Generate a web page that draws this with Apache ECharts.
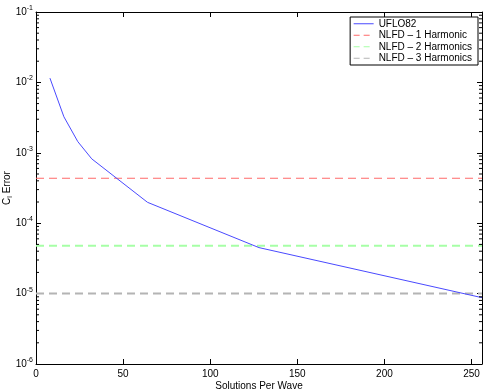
<!DOCTYPE html>
<html><head><meta charset="utf-8">
<script src="https://cdn.jsdelivr.net/npm/echarts@6/dist/echarts.min.js"></script>
<style>html,body{margin:0;padding:0;background:#fff}#c{width:486px;height:391px}</style>
</head><body><div id="c"></div>
<script>
// ---- data ----
const solutionsPerWave = [8, 16, 24, 32, 64, 128, 256];
const ufloError = [1.15e-2, 3.25e-3, 1.44e-3, 8.2e-4, 1.98e-4, 4.5e-5, 8.75e-6];
const harmonicLevels = [4.35e-4, 4.8e-5, 1.0e-5];
const seriesNames = ['UFLO82', 'NLFD – 1 Harmonic', 'NLFD – 2 Harmonics', 'NLFD – 3 Harmonics'];
const xRange = [0, 256];
const xTickStep = 50;
const yRange = [1e-6, 1e-1];
const yDecadeExponents = [-6, -5, -4, -3, -2];
const minorMultipliers = [2, 3, 4, 5, 6, 7, 8, 9];

const FONT = "'Liberation Sans', Arial, Helvetica, sans-serif";
const colors = ['#4a4aff', '#ff6a6a', '#a6ffa6', '#b4b4b4'];
const dashes = [null, [8, 5], [8, 5], [8, 5]];
const widths = [1, 1, 2, 2];

const minorTickValues = [];
yDecadeExponents.forEach(e => minorMultipliers.forEach(m => minorTickValues.push(m * Math.pow(10, e))));

const chart = echarts.init(document.getElementById('c'), null, {renderer: 'canvas'});

const supLabel = {
  formatter: v => '{b|10}{s|' + Math.round(Math.log10(v)) + '}',
  rich: {
    b: {fontSize: 10, fontFamily: FONT, color: '#000'},
    s: {fontSize: 7, fontFamily: FONT, color: '#000', verticalAlign: 'top', padding: [0, 0, 8, 0]}
  },
  margin: 3
};

const series = [
  {
    name: seriesNames[0], type: 'line', xAxisIndex: 0, yAxisIndex: 0,
    data: solutionsPerWave.map((x, i) => [x, ufloError[i]]),
    symbol: 'none', lineStyle: {color: colors[0], width: 1}, itemStyle: {color: colors[0]},
    z: 5, animation: false
  }
];
harmonicLevels.forEach((lvl, i) => {
  series.push({
    name: seriesNames[i + 1], type: 'line', xAxisIndex: 0, yAxisIndex: 0,
    data: [[xRange[0], lvl], [xRange[1], lvl]],
    symbol: 'none',
    lineStyle: {color: colors[i + 1], width: widths[i + 1], type: dashes[i + 1]},
    itemStyle: {color: colors[i + 1]},
    z: 4, animation: false
  });
});
// minor log ticks on left and right sides of the box
series.push({
  type: 'custom', xAxisIndex: 0, yAxisIndex: 0, silent: true, animation: false,
  data: minorTickValues.map(v => [xRange[0], v]),
  renderItem: (params, api) => {
    const v = api.value(1);
    const l = api.coord([xRange[0], v]);
    const r = api.coord([xRange[1], v]);
    return {
      type: 'group', children: [
        {type: 'line', shape: {x1: l[0], y1: l[1], x2: l[0] + 3, y2: l[1]}, style: {stroke: '#000', lineWidth: 1}},
        {type: 'line', shape: {x1: r[0], y1: r[1], x2: r[0] - 3, y2: r[1]}, style: {stroke: '#000', lineWidth: 1}}
      ]
    };
  },
  z: 6
});

const option = {
  animation: false,
  backgroundColor: '#fff',
  textStyle: {fontFamily: FONT},
  grid: {left: 36, right: 4, top: 12, bottom: 27, containLabel: false, outerBoundsMode: 'none'},
  legend: {
    data: seriesNames.map((n, i) => ({
      name: n,
      lineStyle: {color: colors[i], width: 1, type: i === 0 ? 'solid' : [6, 4]}
    })),
    orient: 'vertical', right: 8, top: 17,
    backgroundColor: '#fff', borderColor: '#000', borderWidth: 1,
    padding: [1, 6, 1, 3],
    itemWidth: 20, itemHeight: 8, itemGap: 0,
    itemStyle: {opacity: 0},
    textStyle: {fontSize: 10, fontFamily: FONT, color: '#000', lineHeight: 11.5},
    selectedMode: false
  },
  xAxis: [
    {
      type: 'value', position: 'bottom', min: xRange[0], max: xRange[1], interval: xTickStep,
      name: 'Solutions Per Wave', nameLocation: 'middle', nameGap: 17, nameMoveOverlap: false,
      nameTextStyle: {fontSize: 10, color: '#000', fontFamily: FONT},
      axisLine: {show: true, onZero: false, lineStyle: {color: '#000', width: 1}},
      axisTick: {show: true, inside: true, length: 5, lineStyle: {color: '#000'}},
      axisLabel: {fontSize: 10, color: '#000', margin: 5, fontFamily: FONT,
        formatter: v => (v % xTickStep === 0 ? String(v) : '')},
      splitLine: {show: false}
    },
    {
      type: 'value', position: 'top', min: xRange[0], max: xRange[1], interval: xTickStep,
      axisLine: {show: true, onZero: false, lineStyle: {color: '#000', width: 1}},
      axisTick: {show: true, inside: true, length: 5, lineStyle: {color: '#000'}},
      axisLabel: {show: false}, splitLine: {show: false}
    }
  ],
  yAxis: [
    {
      type: 'log', logBase: 10, position: 'left', min: yRange[0], max: yRange[1],
      name: '{c|C}{l|l}{e| Error}', nameLocation: 'middle', nameGap: 22, nameRotate: 90,
      nameMoveOverlap: false,
      nameTextStyle: {
        color: '#000', fontFamily: FONT,
        rich: {
          c: {fontSize: 10, fontFamily: FONT, color: '#000'},
          l: {fontSize: 7, fontFamily: FONT, color: '#000', verticalAlign: 'bottom', padding: [6, 0, 0, 0]},
          e: {fontSize: 10, fontFamily: FONT, color: '#000'}
        }
      },
      axisLine: {show: true, onZero: false, lineStyle: {color: '#000', width: 1}},
      axisTick: {show: true, inside: true, length: 5, lineStyle: {color: '#000'}},
      axisLabel: supLabel,
      splitLine: {show: false}
    },
    {
      type: 'log', logBase: 10, position: 'right', min: yRange[0], max: yRange[1],
      axisLine: {show: true, onZero: false, lineStyle: {color: '#000', width: 1}},
      axisTick: {show: true, inside: true, length: 5, lineStyle: {color: '#000'}},
      axisLabel: {show: false}, splitLine: {show: false}
    }
  ],
  series: series
};
chart.setOption(option);
</script>
</body></html>
